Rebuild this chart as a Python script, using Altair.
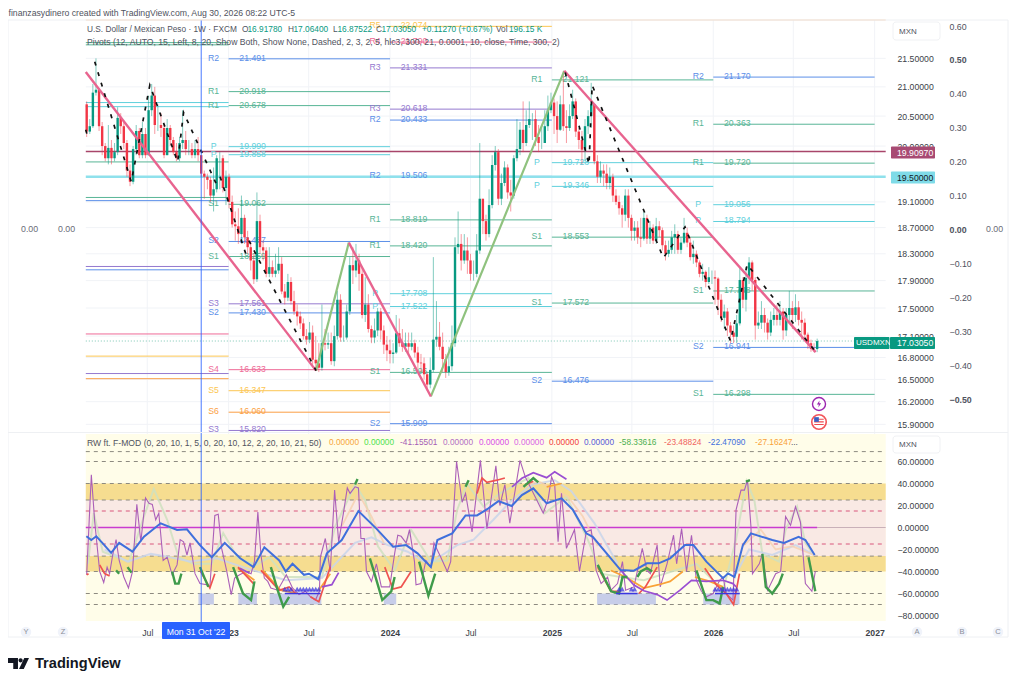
import altair as alt
import pandas as pd

FONT = "Liberation Sans"
TXT = "#50535e"
UP = "#089981"
DOWN = "#f23645"
START = pd.Timestamp("2022-02-14")

close = [
 20.24,20.33,20.90,20.95,20.33,20.00,19.80,19.97,19.80,19.90,
 20.47,20.33,20.05,19.60,19.42,19.95,20.25,19.85,20.20,19.85,
 20.60,20.85,20.35,20.35,20.30,19.85,20.30,20.10,19.90,19.80,
 20.05,20.10,19.95,19.95,19.85,19.95,19.85,19.55,19.50,19.45,
 19.20,19.30,19.80,19.80,19.32,19.50,19.10,18.75,18.72,18.60,
 18.85,18.55,18.40,18.20,17.92,18.80,18.40,18.35,18.00,18.10,
 18.00,18.05,18.15,17.74,17.65,17.88,17.60,17.45,17.38,17.28,
 17.10,17.05,17.15,16.77,16.72,16.66,17.00,16.98,17.00,16.75,
 17.10,17.62,17.08,17.08,17.45,18.13,18.05,18.20,18.00,17.40,
 17.55,17.20,17.08,17.18,17.45,17.18,16.98,16.90,16.85,16.87,
 17.14,17.00,16.95,17.00,16.95,17.00,16.87,16.73,16.72,16.57,
 16.43,16.63,17.05,17.09,16.95,16.78,16.60,16.68,17.00,18.40,
 18.45,18.20,18.35,18.20,18.00,18.00,18.35,19.15,18.80,18.60,
 19.05,19.69,19.90,19.15,19.40,19.65,19.25,19.20,19.80,19.95,
 20.27,20.05,20.35,20.45,20.45,20.15,20.05,20.05,20.33,20.60,
 20.73,20.50,20.27,20.70,20.33,20.30,20.50,20.75,20.24,20.10,
 19.94,20.33,20.50,20.70,19.75,19.50,19.60,19.55,19.40,19.50,
 19.20,19.10,19.00,18.90,19.20,18.85,18.65,18.70,18.55,18.53,
 18.85,18.53,18.70,18.50,18.72,18.66,18.43,18.30,18.36,18.55,
 18.60,18.36,18.47,18.62,18.47,18.25,18.30,18.17,18.00,18.03,
 17.88,17.95,17.95,17.93,17.62,17.36,17.45,17.25,17.15,17.09,
 17.28,17.91,17.62,17.94,18.17,17.91,17.25,17.29,17.40,17.29,
 17.15,17.33,17.40,17.33,17.45,17.18,17.40,17.50,17.40,17.51,
 17.33,17.29,17.12,17.00,16.92,16.918,17.03]
high = [
 20.75,20.45,21.05,21.50,20.98,20.40,20.05,20.35,20.10,20.05,
 20.65,20.55,20.40,20.10,19.70,20.00,20.35,20.30,20.40,20.30,
 20.85,21.05,21.00,20.70,20.55,20.35,20.45,20.35,20.15,20.05,
 20.15,20.60,20.25,20.10,20.05,20.10,20.15,19.85,19.60,19.55,
 19.50,19.65,19.85,19.90,19.85,19.60,19.55,19.20,18.95,19.00,
 19.20,18.90,18.65,18.50,18.30,19.25,18.90,18.50,18.40,18.40,
 18.20,18.30,18.40,18.25,17.85,18.00,17.95,17.75,17.55,17.45,
 17.35,17.20,17.30,17.25,17.10,17.00,17.55,17.20,17.15,17.15,
 17.25,17.75,17.70,17.25,17.55,18.25,18.40,18.45,18.30,18.10,
 17.95,17.70,17.25,17.35,17.50,17.50,17.25,17.10,17.05,17.00,
 17.40,17.35,17.20,17.15,17.15,17.15,17.05,16.95,16.85,16.80,
 16.60,16.80,18.25,17.60,17.30,17.15,16.85,16.95,17.25,18.55,
 18.95,18.60,18.60,18.55,18.30,18.20,18.60,20.05,19.15,18.90,
 19.30,19.85,20.00,19.95,19.55,19.75,19.70,19.45,19.85,20.45,
 20.40,20.75,20.60,20.75,20.55,20.60,20.35,20.35,20.60,20.85,
 20.90,20.80,20.75,20.85,21.27,20.60,20.70,20.95,20.80,20.30,
 20.25,20.45,20.60,21.07,20.40,19.85,19.75,19.70,19.70,19.65,
 19.55,19.30,19.20,19.05,19.30,19.30,18.90,18.80,18.80,18.85,
 18.95,18.90,18.80,18.75,18.85,18.80,18.70,18.50,18.50,18.65,
 18.75,18.65,18.55,18.85,18.70,18.55,18.50,18.35,18.20,18.15,
 18.05,18.10,18.05,18.05,17.95,17.70,17.55,17.50,17.30,17.25,
 17.40,18.10,17.95,18.10,18.25,18.20,17.95,17.45,17.60,17.50,
 17.35,17.45,17.50,17.55,17.60,17.50,17.50,17.75,17.60,17.70,
 17.60,17.45,17.35,17.15,17.05,17.00,17.064]
low = [
 20.15,20.20,20.30,20.85,20.25,19.85,19.75,19.70,19.70,19.75,
 19.85,20.20,19.95,19.50,19.35,19.38,19.85,19.80,19.80,19.80,
 19.85,20.50,20.20,20.25,20.15,19.80,19.85,20.00,19.85,19.75,
 19.75,19.95,19.85,19.85,19.80,19.80,19.75,19.50,19.15,19.30,
 19.10,18.95,19.25,19.30,19.25,19.05,19.00,18.70,18.50,18.45,
 18.50,18.45,18.30,18.05,17.85,17.88,18.30,18.20,17.95,17.95,
 17.95,17.95,18.00,17.70,17.55,17.60,17.55,17.40,17.25,17.20,
 17.05,16.98,17.00,16.70,16.65,16.60,16.62,16.90,16.92,16.70,
 16.68,17.05,17.02,17.02,17.05,17.40,17.85,17.95,17.75,17.35,
 17.30,17.15,17.00,17.00,17.10,17.05,16.85,16.75,16.72,16.72,
 16.85,16.95,16.88,16.88,16.85,16.90,16.80,16.65,16.60,16.50,
 16.35,16.38,16.60,16.95,16.90,16.60,16.52,16.55,16.62,16.95,
 18.30,18.05,18.15,18.00,17.90,17.90,17.95,18.30,18.60,18.50,
 18.55,19.00,19.60,19.05,19.05,19.35,19.15,18.95,19.15,19.75,
 19.85,19.90,20.00,20.30,20.10,20.00,19.90,19.95,20.05,20.25,
 20.55,20.20,20.05,20.25,20.25,20.05,20.25,20.45,20.15,19.95,
 19.70,19.75,20.20,20.30,19.70,19.40,19.40,19.35,19.30,19.30,
 19.10,19.05,18.90,18.70,18.80,18.70,18.50,18.50,18.45,18.40,
 18.50,18.45,18.45,18.45,18.45,18.55,18.35,18.20,18.25,18.30,
 18.30,18.30,18.30,18.45,18.40,18.20,18.15,18.10,17.95,17.90,
 17.80,17.85,17.85,17.55,17.40,17.30,17.20,17.10,17.00,17.00,
 17.00,17.25,17.50,17.45,17.85,17.75,17.05,17.20,17.20,17.15,
 17.05,17.10,17.25,17.25,17.25,17.05,17.10,17.30,17.20,17.30,
 17.25,17.05,17.05,16.92,16.88,16.875,16.875]
first_open = 20.70

C_BLUE, C_GREEN, C_TEAL = "#5c8fe8", "#58b596", "#5fd0dc"
C_PURP, C_PINK, C_YEL, C_OR = "#9579cf", "#ee6a96", "#fcc652", "#fb9f45"

pivots_2022 = [(21.78,C_GREEN),(21.74,C_GREEN),(20.73,C_TEAL),(20.66,C_TEAL),(19.74,C_GREEN),(19.17,C_GREEN),
               (19.12,C_BLUE),(18.11,C_PURP),(18.06,C_BLUE),(17.13,C_PINK),(16.82,C_YEL),(16.58,C_PURP),(16.51,C_OR)]
pivots_2023 = [("R2",21.491,C_BLUE),("R1",20.918,C_GREEN),("R1",20.678,C_GREEN),("P",19.990,C_TEAL),("P",19.858,C_TEAL),
               ("S1",19.062,C_GREEN),("S2",18.487,C_BLUE),("S1",18.259,C_GREEN),("S3",17.561,C_PURP),("S2",17.430,C_BLUE),
               ("S4",16.633,C_PINK),("S5",16.347,C_YEL),("S6",16.060,C_OR),("S3",15.820,C_PURP)]
pivots_2024 = [("R5",22.074,C_YEL),("R4",21.790,C_PINK),("R3",21.331,C_PURP),("R3",20.618,C_PURP),("R2",20.433,C_BLUE),
               ("R2",19.506,C_BLUE),("R1",18.819,C_GREEN),("R1",18.420,C_GREEN),("P",17.708,C_TEAL),("P",17.522,C_TEAL),
               ("S1",16.596,C_GREEN),("S2",15.909,C_BLUE)]
pivots_2025 = [("R1",21.121,C_GREEN),("P",19.728,C_TEAL),("P",19.346,C_TEAL),("S1",18.553,C_GREEN),("S1",17.572,C_GREEN),("S2",16.476,C_BLUE)]
pivots_2026 = [("R2",21.170,C_BLUE),("R1",20.363,C_GREEN),("R1",19.720,C_GREEN),("P",19.056,C_TEAL),("P",18.794,C_TEAL),
               ("S1",17.748,C_GREEN),("S2",16.941,C_BLUE),("S1",16.298,C_GREEN)]

price_ticks = [21.5,21.0,20.5,20.0,19.1,18.7,18.3,17.9,17.5,17.1,16.8,16.5,16.2,15.9]
osc_ticks = [60,40,20,0,-20,-40,-60,-80]
aux_ticks = [0.6,0.5,0.4,0.3,0.2,0.1,0.0,-0.1,-0.2,-0.3,-0.4,-0.5]

pink_lines = [[(-0.3,21.26),(74.1,16.62)],[(84.7,18.47),(111.2,16.27)],[(154.3,21.28),(235.5,16.875)]]
green_lines = [[(74.1,16.62),(84.7,18.47)],[(111.2,16.27),(154.3,21.28)]]
black_dash = [[(-0.3,20.27),(0.6,20.1)],[(2.6,21.44),(14.4,19.42),(20.4,21.03),(29.4,19.74),(31.3,20.56),(42.2,19.35)],
              [(43.1,19.5),(51.4,18.3)],[(52.4,18.5),(74.1,16.62)],[(154.6,21.25),(162.3,19.7),(163.3,21.03),(186.3,18.24),
              (193.3,18.71),(208,17.03),(213.4,18.14),(235.5,16.88)]]

osc_thin = [(0,-43),(1.5,48),(2.6,5),(4.2,-40),(5.5,-50),(6.6,-36),(7.4,-42),(8.4,-25),(9.5,-11),(10.5,-30),(12,-45),(13.5,-55),
 (14.8,-40),(16.2,21),(17.5,-13),(19,27),(20.1,22),(21.2,21),(22.3,7),(23.3,13),(24.7,-30),(26,-27),(27.6,-43),(29.2,-34),
 (30.2,-11),(31.3,-13),(32.4,-25),(33.4,-14),(35,-42),(36.6,-51),(38.8,-52),(39.8,-54),(41.4,11),(42.5,12),(43.6,-19),(45.2,-39),
 (46.7,-61),(47.8,-46),(49.4,-43),(51.5,-40),(53.1,-42),(54.2,-31),(55.3,14),(56.3,-25),(57.4,-46),(58.5,-49),(59.5,-55),(61.7,-57),
 (63.3,-49),(64.5,-43),(66.5,-55),(68.6,-61),(70.7,-58),(72.3,-63),(73.9,-66),(75.2,-58),(75.5,-27),(77.1,-10),(78.7,-40),(80.1,34),
 (81.4,-13),(83,14),(84.2,36),(85.1,31),(86.7,37),(87.8,36),(88.6,-10),(89.7,-10),(90.4,-40),(92,-49),(93.6,-33),(95.2,-54),(97.9,-54),
 (99.5,-23.5),(100.5,-7),(101.6,-8),(103.2,-14),(104.3,-2),(105.9,-31),(106.4,-52),(108,-51),(109.6,-30),(111.2,-36),(112.2,-14),
 (114.4,-27),(116.5,-40),(117.6,-31),(119.5,60),(121.3,23),(122.4,31),(124.5,-4),(127.2,61),(129.3,-1),(132.2,56),(133.5,20),(135.1,39),
 (136.7,4),(140,61),(141.7,46),(145.4,25),(147.5,13),(149.1,26),(150.2,46),(151.2,39),(152.3,-13),(153.4,31),(155,-19),(157.6,-2),
 (159.2,-40),(161.4,-4),(163,-2),(164.6,-39),(166.2,-51),(168.3,-45),(169.4,-57),(171.5,-51),(173.1,-31),(174.1,-57),(176.8,-54),
 (179.5,-19),(181,-39),(182.1,-42),(184.3,-16),(185.3,-54),(187.5,-33),(189.6,-7),(190.6,-33),(192.2,-1),(193.8,-40),(195.4,-7),
 (197,-48),(198.6,-58),(200.2,-63),(202.4,-60),(204.5,-48),(205.6,-45),(206.6,-60),(208.8,-66),(209.8,16),(211.4,34),(212.5,34),
 (213.5,43),(214.6,1),(215.1,-42),(217.3,-33),(218.3,-24),(220,-57),(222.6,-42),(224.2,-40),(225.8,10),(227.4,2),(229,19),(230.6,5),
 (232.2,-51),(234.3,-58),(235.4,-40)]
osc_blue = [(-0.1,-8),(1.5,-11.4),(3.1,-8),(5.2,-14.4),(7.9,-23),(10.5,-14),(14.8,-22),(18.5,-8.4),(23.9,3.8),(29.2,-2.3),(32.4,-1.7),
 (36.6,-16),(40.4,-27),(44.6,-14),(49.6,-28),(53.9,-36),(57.4,-18),(62.2,-30),(64.3,-40),(66.5,-33),(70.2,-43),(71.8,-42),(74.8,-47),
 (77.6,-23.5),(82.4,-11.4),(87.8,15),(93.6,-1),(99,-17.5),(103.2,-16),(106.9,-23.5),(111.2,-36),(113.3,-11.4),(118.1,-5.3),(122.4,11),
 (126.1,11),(129.8,17.4),(133,24),(137.3,19.5),(140.6,29.5),(144.3,35.6),(148.6,22),(153.4,26.5),(157.1,16),(161.4,-5.3),(163.5,-8.4),
 (172.5,-38.7),(176.8,-39.3),(181,-32.6),(184.8,-32.6),(188.5,-28),(193.3,-16),(196,-16),(200.2,-31),(205.6,-46),(207.2,-41.7),
 (209.3,-45),(212,-16),(214.6,-5.3),(221.5,-11.4),(225.3,-14),(230,-8.4),(232.2,-11.4),(235.2,-25)]
osc_purple = [[(137.4,37),(140.6,44.7),(144.3,49.8),(148.6,45.3),(151.2,50.7),(155,43.8)],
 [(172.5,-38.7),(176.8,-52.3),(180,-57.5),(184.3,-61),(187.5,-66),(191.7,-57),(195.4,-48),(200.2,-49),(205.6,-48),(208.8,-51),(209.8,-54)],
 [(49.5,-37),(52.6,-41.7)],[(76,-54),(79.2,-52),(81.4,-41)]]
osc_pale_green = [[(0.4,-33),(2.3,13),(5.2,-22),(13.7,-31),(18.5,10),(21.7,35),(26,7),(29.7,-27),(34.5,-33),(40.4,-33),(44.1,-5),(48.9,-28),
 (54.7,-34),(59,-27),(64.3,-45),(76,-45),(80.3,1),(86.7,39),(89.9,25),(94.1,-17),(99.5,-39),(104.8,-2),(111.2,-31),(116.5,-30),(119.7,16),
 (122.9,40),(128.2,19),(133.5,31),(137.4,37),(142.7,45),(148,13),(155,28),(161.9,-11),(166.2,-42),(172.5,-45),(180,-48),(197,-33),
 (205.6,-57),(209.8,-11),(213.2,42),(215.7,25),(218.3,-24),(223.7,-31),(225.8,-2),(229.5,19),(232.2,-14),(234.9,-25)]]
osc_pale_blue = [[(5.8,-20),(13.2,-31),(20.7,-24),(27,-27),(33.4,-31),(42,-28),(50.5,-36),(64.3,-48),(76,-46),(86.7,-14),(92,-9),(97.3,-16),
 (103.7,-22),(109,-31),(112.2,-30),(119.7,-16),(125,-11),(131.4,7),(136.7,23),(143.8,39),(151.2,43),(156.6,33),(164,4),(171.5,-33)],
 [(209.8,-42),(214,-20),(221.5,-25),(229,-16),(235.2,-25)]]
osc_pale_orange = [[(82.4,1),(87.8,31),(92,10),(96,-14)],[(127.2,40),(133.5,22),(140.6,37),(145.9,42),(155.5,28),(160.3,10),(165.1,-17)],
 [(212,-17),(217.8,-2),(222.6,-20),(227.9,-17),(235,-25)]]
osc_green = [[(91.5,-28),(93,-42),(95.5,-66),(98.4,-58),(99.5,-45)],[(107.4,-31),(110.4,-62),(112.6,-42)],[(86.7,39),(87.5,44)],
 [(122.4,37),(123.4,43)],[(27.6,-40),(28.6,-51),(29.7,-51),(30.6,-42)],[(9.5,-39),(10.5,-42)],[(13.2,-36),(14.5,-41)],
 [(36.6,-36),(39.3,-54)],[(47.3,-36),(50.5,-60),(53.1,-66),(54.2,-49)],[(59.5,-36),(61.7,-57),(63.5,-72),(65.4,-63)],
 [(165.1,-34),(169.4,-58),(172,-60),(173.1,-45),(174.7,-45)],[(177.9,-45),(179,-40),(181,-37),(182.7,-40)],
 [(197,-39),(200.2,-66),(202.4,-66),(204.5,-69),(205.6,-54)],[(213,41.6),(214.3,43)],
 [(218.3,-24),(219.4,-54),(221.5,-60),(223.7,-51),(224.9,-42)],[(233.2,-27),(235.4,-58)],[(141.1,37),(144.3,45),(145.9,41)]]
osc_red = [[(0,-43),(0.6,-42)],[(4.2,-34),(5.8,-42),(7.4,-44)],[(36.6,-39),(39.8,-55),(41.4,-42)],[(48.9,-36),(54.2,-52)],
 [(56.3,-39),(62.2,-57),(65.4,-54),(67.5,-60)],[(72.3,-63),(75,-67.5),(78.7,-36)],[(96.3,-36),(99,-56),(101.6,-54),(104.8,-40)],
 [(126.1,31),(127.7,45),(129.3,41),(132.5,43),(135.1,45)],[(141.7,39),(144.3,42)],[(165.1,-36),(169.4,-58),(172.5,-58)],
 [(178.4,-60),(180.5,-54),(184.3,-36)],[(199.7,-37),(203.4,-52),(206.6,-60),(209,-70),(210.9,-42)]]
osc_orange = [[(48.9,-37),(54.2,-48)],[(56.9,-39),(62.7,-57),(68,-60)],[(75,-57),(78.7,-42)],
 [(169.4,-39),(174.1,-45),(180,-55),(184.8,-52),(188.5,-49),(192.6,-40)],[(196.5,-45),(201.3,-49),(205.6,-54)],[(148.6,37),(153.4,40)]]
shade_ranges = [(36.1,41.1),(49,55),(59.1,75.8),(96,100),(164.9,183.9),(199.2,210.9)]
tri_weeks = [64,65,66,68,69,70,71,72,73,74,75,172,173,176,177,203,204,205,206,207,208,209,210]
tri_rules = [(64,75.5),(171,178),(203,211)]
dash_gray = [69,60,40,25,-26,-40,-60,-70]
dash_red = [15,-15]
bands = [(85,-85,"#fffde9"),(40,25,"#f6dd90"),(25,-26,"#f9e9e4"),(-26,-40,"#f6dd90")]

def d(w):
    return (START + pd.to_timedelta(w * 7, unit="D")).strftime("%Y-%m-%dT%H:%M:%S")

def dt(y, m, day):
    return alt.DateTime(year=y, month=m, date=day)

XS = alt.Scale(domain=[dt(2022,2,12), dt(2027,1,26)], range=[72.8, 882.7])
PS = alt.Scale(type="log", domain=[15.80, 22.19], range=[424, 12], nice=False, zero=False)
OS = alt.Scale(domain=[-85, 85], range=[613, 426], nice=False, zero=False)
AS = alt.Scale(domain=[-0.5, 0.6], range=[391, 18], nice=False, zero=False)

X0 = "2022-02-12T00:00:00"
X1 = "2027-01-26T00:00:00"

grid_dates = [(2022,7),(2023,1),(2023,7),(2024,1),(2024,7),(2025,1),(2025,7),(2026,1),(2026,7),(2027,1)]
XA = alt.Axis(values=[dt(y, m, 1) for y, m in grid_dates], orient="bottom", offset=-49, title=None, domain=False,
              ticks=False, grid=False, labelPadding=0, labelFontSize=8.7, labelFont=FONT, labelColor="#3c3f48",
              labelOverlap=False, labelFlush=False, labelBound=False,
              labelFontWeight=alt.expr("month(datum.value)==0 ? 700 : 400"),
              labelExpr="month(datum.value)==0 ? timeFormat(datum.value,'%Y') : 'Jul'")
PA = alt.Axis(values=price_ticks, orient="right", offset=-119, title=None, domain=False, ticks=False, grid=False,
              format=".5f", labelAlign="left", labelPadding=0, labelFontSize=8.7, labelFont=FONT,
              labelColor="#3c3f48", labelOverlap=False, labelFlush=False, labelBound=False)
OA = alt.Axis(values=osc_ticks, orient="right", offset=-119, title=None, domain=False, ticks=False, grid=False,
              format=".5f", labelAlign="left", labelPadding=0, labelFontSize=8.7, labelFont=FONT,
              labelColor="#3c3f48", labelOverlap=False, labelFlush=False, labelBound=False)

def X(f="d"):
    return alt.X(f"{f}:T", scale=XS, axis=XA)
def PY(f="p"):
    return alt.Y(f"{f}:Q", scale=PS, axis=PA)
def OY(f="v"):
    return alt.Y(f"{f}:Q", scale=OS, axis=OA)

def segs(seglist):
    rows = []
    for k, s in enumerate(seglist):
        for w, v in s:
            rows.append({"d": d(w), "v": v, "seg": k})
    return pd.DataFrame(rows)

one = alt.Data(values=[{"a": 1}])

def T(x, y, s, color=TXT, size=8.7, align="left", **kw):
    return alt.Chart(one).mark_text(text=s, align=align, baseline="middle", color=color,
                                    fontSize=size, font=FONT, **kw).encode(x=alt.value(x - 8), y=alt.value(y - 8))

def R(x0, y0, x1, y1, color, **kw):
    return alt.Chart(one).mark_rect(color=color, **kw).encode(
        x=alt.value(x0 - 8), x2=alt.value(x1 - 8), y=alt.value(y0 - 8), y2=alt.value(y1 - 8))

gd = pd.DataFrame({"d": [f"{y}-{m:02d}-01T00:00:00" for y, m in grid_dates]})
vgrid = alt.Chart(gd).mark_rule(color="#f1f3f7", strokeWidth=1).encode(x=X(), y=alt.value(12), y2=alt.value(612))

bd = pd.DataFrame([{"x0": X0, "x1": X1, "a": a, "b": b, "c": c} for a, b, c in bands])
osc_bands = alt.Chart(bd).mark_rect().encode(x=X("x0"), x2="x1:T", y=OY("a"), y2="b:Q", color=alt.Color("c:N", scale=None))

def hline(vals, color, dash=None, width=1):
    df = pd.DataFrame([{"x0": X0, "x1": X1, "v": v} for v in vals])
    kw = {"strokeDash": dash} if dash else {}
    return alt.Chart(df).mark_rule(color=color, strokeWidth=width, **kw).encode(x=X("x0"), x2="x1:T", y=OY())

def oline(seglist, color, width, opacity=1.0):
    return alt.Chart(segs(seglist)).mark_line(color=color, strokeWidth=width, opacity=opacity, interpolate="linear").encode(
        x=X(), y=OY(), detail="seg:N")

shade_df = pd.DataFrame([{"x0": d(a), "x1": d(b), "a": -60, "b": -70} for a, b in shade_ranges])
osc_shade = alt.Chart(shade_df).mark_rect(color="#b9c0e8", opacity=0.8).encode(x=X("x0"), x2="x1:T", y=OY("a"), y2="b:Q")
tri_df = pd.DataFrame({"d": [d(w) for w in tri_weeks], "v": [-56] * len(tri_weeks)})
osc_tri = alt.Chart(tri_df).mark_point(shape="triangle-up", filled=True, size=28, color="#3b35e0", opacity=0.75).encode(x=X(), y=OY())
tri_rule_df = pd.DataFrame([{"x0": d(a), "x1": d(b), "v": -60} for a, b in tri_rules])
osc_tri_rule = alt.Chart(tri_rule_df).mark_rule(color="#3b35e0", strokeWidth=1.6).encode(x=X("x0"), x2="x1:T", y=OY())
zero_df = pd.DataFrame([{"x0": X0, "x1": d(236), "v": 0}])
osc_zero = alt.Chart(zero_df).mark_rule(color="#c93ad0", strokeWidth=1.4).encode(x=X("x0"), x2="x1:T", y=OY())
zero2_df = pd.DataFrame([{"x0": d(236), "x1": X1, "v": 0}])
osc_zero2 = alt.Chart(zero2_df).mark_rule(color="#c9b0b8", strokeWidth=1).encode(x=X("x0"), x2="x1:T", y=OY())

osc_group = alt.layer(
    osc_bands, hline(dash_gray, "#8d8a80", [4, 4]), hline(dash_red, "#d9567c", [4, 4]),
    osc_shade, osc_zero2, osc_zero,
    oline(osc_pale_green, "#cfe0c0", 2, 0.85), oline(osc_pale_blue, "#c9d5ea", 2, 0.85), oline(osc_pale_orange, "#f6cfae", 1.8, 0.8),
    oline([osc_thin], "#ab5fb8", 1.1),
    oline(osc_orange, "#f9a237", 1.7), oline(osc_red, "#ef5350", 1.7), oline(osc_purple, "#9a4fd2", 1.7),
    oline(osc_green, "#3f9b4b", 2.4), osc_tri_rule, osc_tri,
    oline([osc_blue], "#3f6fdc", 2),
)

df = pd.DataFrame({"d": [d(i) for i in range(len(close))], "c": close, "h": high, "l": low})
df["o"] = [first_open] + close[:-1]
df["col"] = [UP if c >= o else DOWN for c, o in zip(df["c"], df["o"])]

tick_df = pd.DataFrame({"p": price_ticks, "x0": X0, "x1": X1})
pgrid = alt.Chart(tick_df).mark_rule(color="#f1f3f7").encode(x=X("x0"), x2="x1:T", y=PY())

rows, labels = [], []
for p, c in pivots_2022:
    rows.append({"x0": X0, "x1": "2023-01-01T00:00:00", "p": p, "c": c})
for yr, table in [(2023, pivots_2023), (2024, pivots_2024), (2025, pivots_2025), (2026, pivots_2026)]:
    for name, p, c in table:
        rows.append({"x0": f"{yr}-01-01T00:00:00", "x1": f"{yr+1}-01-01T00:00:00", "p": p, "c": c})
        labels.append({"d": f"{yr}-01-01T00:00:00", "p": p, "c": c, "name": name, "val": f"{p:.3f}"})
piv_lines = alt.Chart(pd.DataFrame(rows)).mark_rule(strokeWidth=1).encode(
    x=X("x0"), x2="x1:T", y=PY(), color=alt.Color("c:N", scale=None))
ld = pd.DataFrame(labels)
piv_name = alt.Chart(ld).mark_text(fontSize=8.7, font=FONT, dx=-15, align="center", baseline="middle", dy=-1).encode(
    x=X(), y=PY(), text="name:N", color=alt.Color("c:N", scale=None))
piv_val = alt.Chart(ld).mark_text(fontSize=8.7, font=FONT, dx=24, align="center", baseline="middle", dy=-1).encode(
    x=X(), y=PY(), text="val:N", color=alt.Color("c:N", scale=None))

def full(p, color, width, **kw):
    f = pd.DataFrame([{"x0": X0, "x1": X1, "p": p}])
    return alt.Chart(f).mark_rule(color=color, strokeWidth=width, **kw).encode(x=X("x0"), x2="x1:T", y=PY())

wick = alt.Chart(df).mark_rule(strokeWidth=1, opacity=0.5).encode(
    x=X(), y=PY("l"), y2="h:Q", color=alt.Color("col:N", scale=None))
body = alt.Chart(df).mark_bar(size=2.4).encode(
    x=X(), y=PY("o"), y2="c:Q", color=alt.Color("col:N", scale=None))

def pline(seglist, color, width, **kw):
    f = segs(seglist).rename(columns={"v": "p"})
    return alt.Chart(f).mark_line(color=color, strokeWidth=width, **kw).encode(x=X(), y=PY(), detail="seg:N")

price_group = alt.layer(
    pgrid, piv_lines, full(22.19, "#f6cba6", 1), full(19.9097, "#a8456a", 1.6), full(19.5, "#8fe1ec", 2.4),
    full(17.0305, "#7cc7b4", 1, strokeDash=[1, 2]),
    piv_name, piv_val, wick, body,
    pline(green_lines, "#8fc27e", 2.2), pline(pink_lines, "#e8648f", 2.4),
    pline(black_dash, "#111111", 1.7, strokeDash=[4, 7]),
)

aux = alt.Chart(pd.DataFrame({"q": aux_ticks})).mark_rule(opacity=0).encode(
    y=alt.Y("q:Q", scale=AS, axis=alt.Axis(values=aux_ticks, orient="right", offset=-67, title=None, domain=False, ticks=False,
            grid=False, format=".2f", labelAlign="left", labelPadding=0, labelFontSize=8.8, labelFont=FONT, labelColor="#50535e",
            labelOverlap=False, labelFlush=False, labelBound=False,
            labelFontWeight=alt.expr("abs(datum.value)==0.5 || datum.value==0 ? 700 : 400"))))

cross = alt.Chart(pd.DataFrame({"d": [d(37)]})).mark_rule(color="#2962ff", strokeWidth=1, opacity=0.85).encode(
    x=X(), y=alt.value(12), y2=alt.value(614))

GR = "#089981"
S = 8.3
notes = [
    R(8, 20, 1008, 637, "#ffffff", stroke="#eef0f3", strokeWidth=1, fillOpacity=0),
    R(8, 432, 1008, 433, "#eef0f3"),
    T(8.5, 13, "finanzasydinero created with TradingView.com, Aug 30, 2026 08:22 UTC-5", color="#50535e", size=8.7),
    T(87, 30, "U.S. Dollar / Mexican Peso · 1W · FXCM", color="#50535e", size=S),
    T(242, 30, "O", size=S), T(247.5, 30, "16.91780", color=GR, size=S),
    T(288, 30, "H", size=S), T(293.5, 30, "17.06400", color=GR, size=S),
    T(333, 30, "L", size=S), T(337.5, 30, "16.87522", color=GR, size=S),
    T(376, 30, "C", size=S), T(381.5, 30, "17.03050", color=GR, size=S),
    T(422, 30, "+0.11270 (+0.67%)", color=GR, size=S),
    T(496, 30, "Vol", size=S), T(509, 30, "196.15 K", color=GR, size=S),
    T(87, 42, "Pivots (12, AUTO, 15, Left, 8, 20, Show Both, Show None, Dashed, 2, 3, 2, 5, hlc3, 300, 21, 0.0001, 10, close, Time, 300, 2)",
      color="#50535e", size=8.65),
    T(87, 443, "RW ft. F-MOD (0, 20, 10, 1, 5, 0, 20, 10, 12, 2, 20, 10, 21, 50)", color="#50535e", size=8.6),
    T(329, 443, "0.00000", color="#f7a63c", size=S), T(364, 443, "0.00000", color="#4fe34f", size=S),
    T(400, 443, "-41.15501", color="#a55cb5", size=S), T(443, 443, "0.00000", color="#b36fc4", size=S),
    T(479, 443, "0.00000", color="#d94fe8", size=S), T(514, 443, "0.00000", color="#d965e6", size=S),
    T(549, 443, "0.00000", color="#f23c3c", size=S), T(584, 443, "0.00000", color="#5a5ad8", size=S),
    T(619, 443, "-58.33616", color="#4caf50", size=S), T(664, 443, "-23.48824", color="#f0635e", size=S),
    T(708, 443, "-22.47090", color="#3f6fdc", size=S), T(755, 443, "-27.16247", color="#f9a237", size=S),
    T(791, 443, "...", color="#50535e", size=S),
    T(21, 229, "0.00", color="#6a6d78", size=8.8), T(58, 229, "0.00", color="#6a6d78", size=8.8),
    T(986, 229, "0.00", color="#6a6d78", size=8.8),
    R(893, 22, 940, 40, "#ffffff", stroke="#f0f1f4", cornerRadius=3), T(899, 32, "MXN", color="#50535e", size=8),
    R(893, 436, 940, 453, "#ffffff", stroke="#f0f1f4", cornerRadius=3), T(899, 445, "MXN", color="#50535e", size=8),
    R(891, 146.5, 935, 158.5, "#a84a73", cornerRadius=1), T(897, 152.5, "19.90970", color="#ffffff", size=8.7),
    R(891, 171.5, 935, 183.5, "#7fdbe8", cornerRadius=1), T(897, 177.5, "19.50000", color="#131722", size=8.7),
    R(854, 337, 889.5, 349, GR, cornerRadius=1), T(856, 343, "USDMXN", color="#ffffff", size=8),
    R(890, 337, 935, 349, GR, cornerRadius=1), T(897, 343, "17.03050", color="#ffffff", size=8.7),
    R(162, 622, 230, 639, "#2962ff", cornerRadius=1), T(196, 632, "Mon 31 Oct '22", color="#ffffff", size=8.7, align="center"),
]
for cx, letter in [(26, "Y"), (63, "Z"), (917, "A"), (962, "B"), (998, "C")]:
    notes.append(alt.Chart(one).mark_point(shape="circle", filled=True, size=110, color="#f0f3fa", opacity=1).encode(
        x=alt.value(cx - 8), y=alt.value(632 - 8)))
    notes.append(T(cx, 632, letter, color="#8a8d98", size=7.5, align="center"))

def icon(x, y, **kw):
    return alt.Chart(one).mark_point(**kw).encode(x=alt.value(x - 8), y=alt.value(y - 8))

notes += [
    icon(819, 404, shape="circle", size=170, filled=True, color="#ffffff", stroke="#9c27b0", strokeWidth=1.4, opacity=1),
    icon(819, 404, shape="M0.15,-1 L-0.6,0.15 H-0.05 L-0.2,1 L0.6,-0.2 H0.05 Z", size=50, filled=True, color="#9c27b0", opacity=1),
    icon(819, 422, shape="circle", size=210, filled=True, color="#ffffff", stroke="#f2555a", strokeWidth=1.6, opacity=1),
    icon(819, 422, shape="M-1,-0.7 H1 V-0.45 H-1 Z M-1,-0.15 H1 V0.1 H-1 Z M-1,0.4 H1 V0.65 H-1 Z", size=90, filled=True, color="#ee4a50", opacity=1),
    icon(816.5, 419.5, shape="square", size=22, filled=True, color="#3c5fc0", opacity=1),
    icon(18.5, 663.5, shape="M-1,-0.52 H-0.05 V0.52 H-0.5 V-0.05 H-1 Z M0,-0.3 A0.2,0.2 0 1 1 0.4,-0.3 A0.2,0.2 0 1 1 0,-0.3 Z M0.55,-0.52 H1 L0.5,0.52 H0.05 Z",
         size=441, filled=True, color="#131722", opacity=1),
    T(35, 664, "TradingView", color="#131722", size=14.6, fontWeight=600),
]

chart = alt.layer(vgrid, osc_group, price_group, aux, cross, *notes).resolve_scale(y="independent").properties(
    width=1008, height=669, padding=0, autosize=alt.AutoSizeParams(type="none"), background="#ffffff"
).configure_view(stroke=None)

chart.save("out.html", embed_options={"renderer": "svg", "actions": False})
